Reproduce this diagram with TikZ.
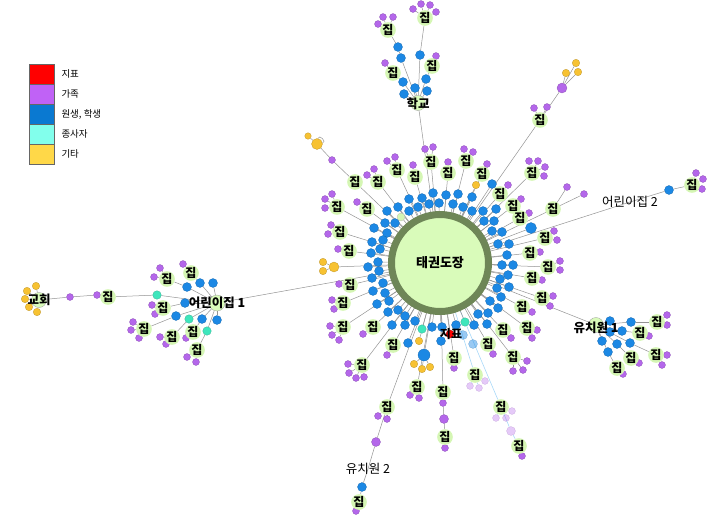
\documentclass[tikz,border=0pt]{standalone}
\usepackage{fontspec}
\newfontfamily\kr{Noto Sans CJK KR}
\usetikzlibrary{positioning,backgrounds}
\definecolor{famc}{HTML}{B467EA}
\definecolor{stuc}{HTML}{1C88E4}
\definecolor{othc}{HTML}{F7C232}
\definecolor{stfc}{HTML}{3EE6BC}
\definecolor{housec}{HTML}{D5F6B4}
\definecolor{hubfill}{HTML}{D9FBBA}
\definecolor{hubring}{HTML}{6E8657}
\definecolor{lgred}{HTML}{FF0000}
\definecolor{lgfam}{HTML}{C062F6}
\definecolor{lgstu}{HTML}{0A79D1}
\definecolor{lgstf}{HTML}{82FFEC}
\definecolor{lgoth}{HTML}{FFD848}
\definecolor{fadec}{HTML}{A8D8F8}

% students around the dojang
\def\stulist{387/211, 398/207, 409/199, 422/198, 433/193, 385/223, 395/223, 409/211, 418/207, 429/204,
  374/228, 387/233, 372/242, 383/240, 371/253, 380/249, 439/203, 446/195, 458/194, 472/197,
  453/204, 463/207, 472/211, 483/211, 496/209, 484/221, 494/221, 492/231, 502/232, 498/244,
  509/244, 507/255, 368/267, 378/262, 379/271, 372/278, 383/283, 373/291, 385/293, 377/304,
  389/301, 388/312, 398/310, 405/316, 392/325, 405/325, 415/321, 408/343, 432/327, 502/265,
  513/265, 508/275, 500/279, 509/287, 497/288, 501/297, 490/301, 498/308, 488/313, 478/314,
  487/324, 474/325, 456/325, 442/327, 441/341, 492/184}
% houses (1-40 hang on the dojang)
\def\houselist{355/182, 378/182, 397/170, 415/177, 431/162, 337/207, 367/209, 340/232, 349/251, 448/173,
  466/161, 482/174, 500/194, 513/206, 520/218, 532/173, 553/209, 545/238, 530/253, 548/267,
  532/278, 542/298, 522/307, 527/328, 503/330, 488/344, 513/357, 350/285, 343/303, 343/327,
  373/327, 393/345, 362/365, 417/387, 454/358, 443/392, 475/375, 501/407, 387/407, 540/120,
  445/437, 519/446, 359/502, 692/185, 393/73, 432/66, 388/30, 425/18, 657/322, 640/333,
  631/358, 656/355, 617/368, 191/273, 167/279, 163/308, 144/329, 172/337, 193/332, 197/350,
  108/297}
% family members: house/x/y
\def\famlist{2/367/175, 2/374/169, 3/387/161, 3/395/157, 4/413/165, 5/425/149, 5/433/147,
  6/325/199, 6/332/194, 6/325/208, 7/357/202, 8/331/225, 8/328/234, 9/338/249, 10/448/162,
  11/464/149, 11/473/152, 12/487/164, 13/508/185, 14/521/199, 15/529/213,
  16/529/161, 16/538/161, 16/545/167, 16/544/176, 17/567/187, 17/584/194, 18/554/231, 18/557/240,
  19/540/252, 20/560/261, 20/560/270, 21/542/280, 22/553/296, 22/550/306, 23/532/312,
  24/537/330, 24/532/338, 25/511/338, 26/493/354, 27/513/371, 27/523/370, 27/527/361,
  28/339/284, 29/332/300, 29/334/309, 30/330/326, 30/332/335, 30/339/340, 31/363/334,
  32/387/355, 33/348/364, 33/349/373, 33/356/378, 33/364/377, 34/410/395, 34/419/398,
  35/454/368, 39/378/416, 39/387/419, 40/534/108, 40/547/107,
  41/445/448, 42/522/456, 43/356/511, 44/696/173, 44/703/179, 44/702/189, 45/385/63, 46/436/56,
  47/383/17, 47/393/17, 47/378/24, 48/413/9, 48/421/4, 48/430/5, 48/436/12,
  49/667/315, 49/667/325, 50/649/336, 51/639/363, 52/667/355, 52/662/365, 53/623/374,
  54/183/264, 55/160/268, 55/154/277, 56/152/305, 56/155/314, 57/133/322, 57/131/330, 57/139/338,
  58/160/337, 58/166/344, 59/186/338, 60/187/357, 60/196/362}
\def\fadelist{37/470/386, 37/479/388, 37/485/381, 38/496/418, 38/506/418, 38/512/411}

\begin{document}
\begin{tikzpicture}[x=1pt, y=-1pt,
  link/.style={draw=black!42, line width=0.5pt},
  fadelink/.style={draw=fadec, line width=0.6pt},
  dot/.style={circle, inner sep=0pt, minimum size=7pt, line width=0.25pt},
  fam/.style={dot, fill=famc, draw=famc!75!black},
  famfade/.style={fam, opacity=0.35},
  stu/.style={dot, minimum size=9pt, fill=stuc, draw=stuc!75!black},
  stufade/.style={stu, opacity=0.45},
  oth/.style={dot, minimum size=7.5pt, fill=othc, draw=othc!75!black},
  stf/.style={dot, minimum size=8.5pt, fill=stfc, draw=stfc!75!black},
  house/.style={circle, fill=housec, inner sep=0pt, minimum size=11pt,
                font=\kr\bfseries\fontsize{12}{12}\selectfont},
  site/.style={circle, fill=hubfill, draw=black!40, line width=0.3pt, inner sep=0pt, minimum size=15pt},
  sitelbl/.style={inner sep=0pt, font=\kr\bfseries\fontsize{12.5}{13}\selectfont},
  plainlbl/.style={inner sep=0pt, font=\kr\fontsize{12.5}{13}\selectfont},
  hubst/.style={circle, fill=hubfill, draw=hubring, line width=7pt, minimum size=97pt,
                font=\kr\bfseries\fontsize{13}{13}\selectfont},
  key/.style={draw=black!60, line width=0.6pt, minimum width=25pt, minimum height=20pt, inner sep=0pt},
  keylbl/.style={font=\kr\fontsize{9.5}{10}\selectfont, inner sep=1pt, anchor=west}
]
\useasboundingbox (0,0) rectangle (719,520);

% legend
\foreach \c/\t [count=\i] in {lgred/지표, lgfam/가족, lgstu/{원생, 학생}, lgstf/종사자, lgoth/기타}{
  \node[key, fill=\c] (key\i) at (41.5,54+20*\i) {};
  \node[keylbl, right=6pt of key\i.east] (keylbl\i) {\t};
}

% members
\foreach \p/\x/\y [count=\i] in \famlist \node[fam] (f\i) at (\x,\y) {};
\foreach \p/\x/\y [count=\i] in \fadelist \node[famfade] (g\i) at (\x,\y) {};
\foreach \x/\y [count=\i] in \stulist \node[stu] (s\i) at (\x,\y) {};
\node[stu, minimum size=11pt] (bigA) at (531,228) {};
\node[stu, minimum size=12pt] (bigB) at (424,355) {};
\node[stufade] (fadeA) at (463,335) {};
\node[stufade] (fadeB) at (473,344) {};
\node[oth] (orA) at (476,185) {};
\node[oth] (orB) at (419,341) {};
\node[oth, minimum size=10pt] (orC) at (334,267) {};
\node[oth] (orC1) at (323,262) {};
\node[oth] (orC2) at (323,271) {};
\node[oth] (orD1) at (414,364) {};
\node[oth] (orD2) at (422,369) {};
\node[oth] (orD3) at (430,367) {};
\node[stf] (cyA) at (422,329) {};
\node[stf] (cyB) at (465,322) {};
\node[dot, minimum size=8pt, fill=lgred, draw=lgred!70!black] (mark) at (450,334) {};
\node[dot, minimum size=8pt, fill=housec, draw=black!30] (pale) at (401,217) {};

% chains further out
\node[fam] (chA) at (332,160) {};
\node[oth, minimum size=11pt] (orE) at (317,144) {};
\node[oth, minimum size=6.5pt] (orE1) at (308,136) {};
\node[fam] (chB) at (443,403) {};
\node[fam, minimum size=9pt] (chC) at (444,419) {};
\node[famfade, minimum size=9pt] (chD) at (511,431) {};
\node[fam, minimum size=9pt] (chE) at (376,442) {};
\node[stu] (chF) at (362,487) {};
\node[fam, minimum size=10pt] (chG) at (562,88) {};
\node[oth] (orF1) at (566,73) {};
\node[oth] (orF2) at (576,63) {};
\node[oth] (orF3) at (578,72) {};
\node[stu] (chH) at (669,190) {};

% school
\foreach \x/\y [count=\i] in {404/94, 415/88, 427/91, 403/82, 426/79, 420/55, 401/58, 398/47}
  \node[stu] (ss\i) at (\x,\y) {};
% kindergarten 1
\foreach \x/\y [count=\i] in {610/321, 631/322, 622/331, 610/332, 602/341, 617/344, 630/343, 608/352}
  \node[stu] (us\i) at (\x,\y) {};
% daycare 1
\foreach \x/\y [count=\i] in {200/283, 213/283, 187/287, 185/303, 176/316, 202/319, 217/320}
  \node[stu] (ks\i) at (\x,\y) {};
\node[stf] (kc1) at (189,319) {};
\node[stf] (kc2) at (207,331) {};
\node[stf] (kc3) at (157,295) {};
\node[fam] (chI) at (97,295) {};
\node[fam] (chJ) at (70,297) {};
\foreach \x/\y [count=\i] in {36/286, 27/291, 25/299, 29/307, 37/312}
  \node[oth] (co\i) at (\x,\y) {};

% houses
\foreach \x/\y [count=\i] in \houselist \node[house] (h\i) at (\x,\y) {집};

% sites
\node[hubst] (dojang) at (440,263) {태권도장};
\node[site, minimum size=16pt] (kid1) at (217,303) {};
\node[site] (school) at (418,103) {};
\node[site] (kinder1) at (596,325) {};
\node[site] (church) at (39,300) {};
\node[sitelbl] (kid1lbl) at (217,303) {어린이집 1};
\node[sitelbl] (schoollbl) at (418,104) {학교};
\node[sitelbl] (kinder1lbl) at (596,328) {유치원 1};
\node[sitelbl] (churchlbl) at (39,300) {교회};
\node[plainlbl] (kid2) at (630,202) {어린이집 2};
\node[plainlbl] (kinder2) at (368,469) {유치원 2};
\node[sitelbl, font=\kr\bfseries\fontsize{12}{12}\selectfont] (marklbl) at (451,334) {지표};

\begin{scope}[on background layer]
  \foreach \i in {1,...,66} \draw[link] (dojang.center) -- (s\i);
  \foreach \i in {1,...,36,39,40} \draw[link] (dojang.center) -- (h\i);
  \foreach \i in {37,38} \draw[fadelink] (dojang.center) -- (h\i);
  \foreach \p/\x/\y [count=\i] in \famlist \draw[link] (h\p) -- (f\i);
  \foreach \p/\x/\y [count=\i] in \fadelist \draw[fadelink] (h\p) -- (g\i);
  \foreach \n in {bigA,bigB,orA,orB,orC,cyA,cyB,mark,pale,school,kinder1,kid1}
    \draw[link] (dojang.center) -- (\n);
  \draw[link] (orC) -- (orC1);
  \draw[link] (orC) -- (orC2);
  \foreach \n in {orD1,orD2,orD3} \draw[link] (bigB) -- (\n);
  \draw[link] (h1) -- (chA) -- (orE) -- (orE1);
  \path (orE) edge[link, loop, out=80, in=10, min distance=5pt] (orE);
  \draw[link] (h36) -- (chB) -- (chC) -- (h41);
  \draw[fadelink] (h38) -- (chD) -- (h42);
  \draw[link] (h39) -- (chE) -- (kinder2.center) -- (chF) -- (h43);
  \draw[link] (h40) -- (chG);
  \foreach \n in {orF1,orF2,orF3} \draw[link] (chG) -- (\n);
  \draw[link] (dojang.center) -- (kid2.center) -- (chH) -- (h44);
  % school
  \foreach \i in {1,...,7} \draw[link] (school) -- (ss\i);
  \draw[link] (ss7) -- (ss8) -- (h47);
  \draw[link] (ss4) -- (h45);
  \draw[link] (ss5) -- (h46);
  \draw[link] (ss6) -- (h48);
  % kindergarten 1
  \foreach \i in {1,...,8} \draw[link] (kinder1) -- (us\i);
  \draw[link] (us2) -- (h49);
  \draw[link] (us3) -- (h50);
  \draw[link] (us6) -- (h51);
  \draw[link] (us7) -- (h52);
  \draw[link] (us8) -- (h53);
  % daycare 1
  \foreach \n in {ks1,ks2,ks3,ks4,ks5,ks6,ks7,kc1,kc2,kc3} \draw[link] (kid1) -- (\n);
  \draw[link] (ks1) -- (h54);
  \draw[link] (ks3) -- (h55);
  \draw[link] (ks4) -- (h56);
  \draw[link] (ks5) -- (h57);
  \draw[link] (kc1) -- (h58);
  \draw[link] (ks6) -- (h59);
  \draw[link] (kc2) -- (h60);
  \draw[link] (kc3) -- (h61) -- (chI) -- (chJ) -- (church);
  \foreach \i in {1,...,5} \draw[link] (church) -- (co\i);
\end{scope}
\end{tikzpicture}
\end{document}
